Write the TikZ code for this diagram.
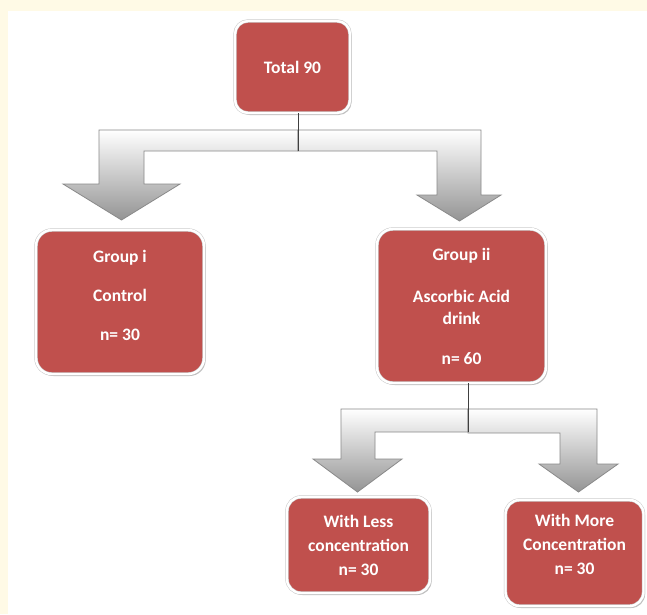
\documentclass[tikz,border=0pt]{standalone}
\usepackage{fontspec}
\setmainfont{Carlito}
\usetikzlibrary{shadows}
\definecolor{boxred}{HTML}{C0504D}
\definecolor{page}{HTML}{FFFAE6}
\definecolor{blockb}{HTML}{8A8A8A}
% lines of a box, raised without changing its size
\newcommand\liftlines[2]{\raisebox{#1}[\height][\depth]{\begin{tabular}{@{}c@{}}#2\end{tabular}}}

\begin{document}
\begin{tikzpicture}[
  x=1pt, y=-1pt,
  font=\fontsize{17.5}{24}\selectfont\bfseries,
  box/.style={draw=black!22, double=white, double distance=2.4pt, line width=.5pt, fill=boxred, text=white,
              align=center, inner sep=0pt, rounded corners=16pt,
              drop shadow={shadow xshift=1.6pt, shadow yshift=-2pt, opacity=.45, fill=black!55}},
  block/.style={draw=blockb, line width=.8pt, line join=miter, top color=white, bottom color=black!42},
  stem/.style={draw=black!75, line width=1pt},
]
\useasboundingbox (0,0) rectangle (647,614);

% ---------------- page
\fill[page] (0,0) rectangle (647,614);
\fill[white] (8,11) rectangle (647,614);

% ---------------- boxes
\node[box, minimum width=115pt, minimum height=92pt, rounded corners=13pt] (total) at (292.5,67) {Total 90};
\node[box, minimum width=168pt, minimum height=144pt] (groupi)  at (120,302)   {\liftlines{5pt}{Group i\\[15pt]Control\\[15pt]n= 30}};
\node[box, minimum width=169pt, minimum height=154pt] (groupii) at (461.5,306) {Group ii\\[18pt]Ascorbic Acid\\[-2pt]drink\\[16pt]n= 60};
\node[box, minimum width=143pt, minimum height=96pt, rounded corners=14pt]  (less) at (358.5,545) {With Less\\concentration\\n= 30};
\node[box, minimum width=138pt, minimum height=106pt, rounded corners=14pt] (more) at (574.5,553) {\liftlines{7pt}{With More\\Concentration\\n= 30}};

% ---------------- split arrows
\coordinate (split1) at (298,151);
\coordinate (split2) at (468,432);

\draw[block] (298,130) -- (99,130) -- (99,184) -- (63,184) -- (121.5,220) -- (180,184) -- (144,184) -- (144,151) -- (298,151) -- cycle;
\draw[block] (298,130) -- (481,130) -- (481,195) -- (501,195) -- (459.5,221) -- (417,195) -- (437,195) -- (437,151) -- (298,151) -- cycle;
\draw[stem] (split1 |- total.south) -- (split1);

\draw[block] (468,409) -- (341,409) -- (341,459) -- (313,459) -- (357.5,492) -- (402,459) -- (375,459) -- (375,432) -- (468,432) -- cycle;
\draw[block] (468,409) -- (597,409) -- (597,464) -- (618,464) -- (578.5,492) -- (539,464) -- (560,464) -- (560,433) -- (468,433) -- cycle;
\draw[stem] (split2 |- groupii.south) -- (split2);

\end{tikzpicture}
\end{document}
